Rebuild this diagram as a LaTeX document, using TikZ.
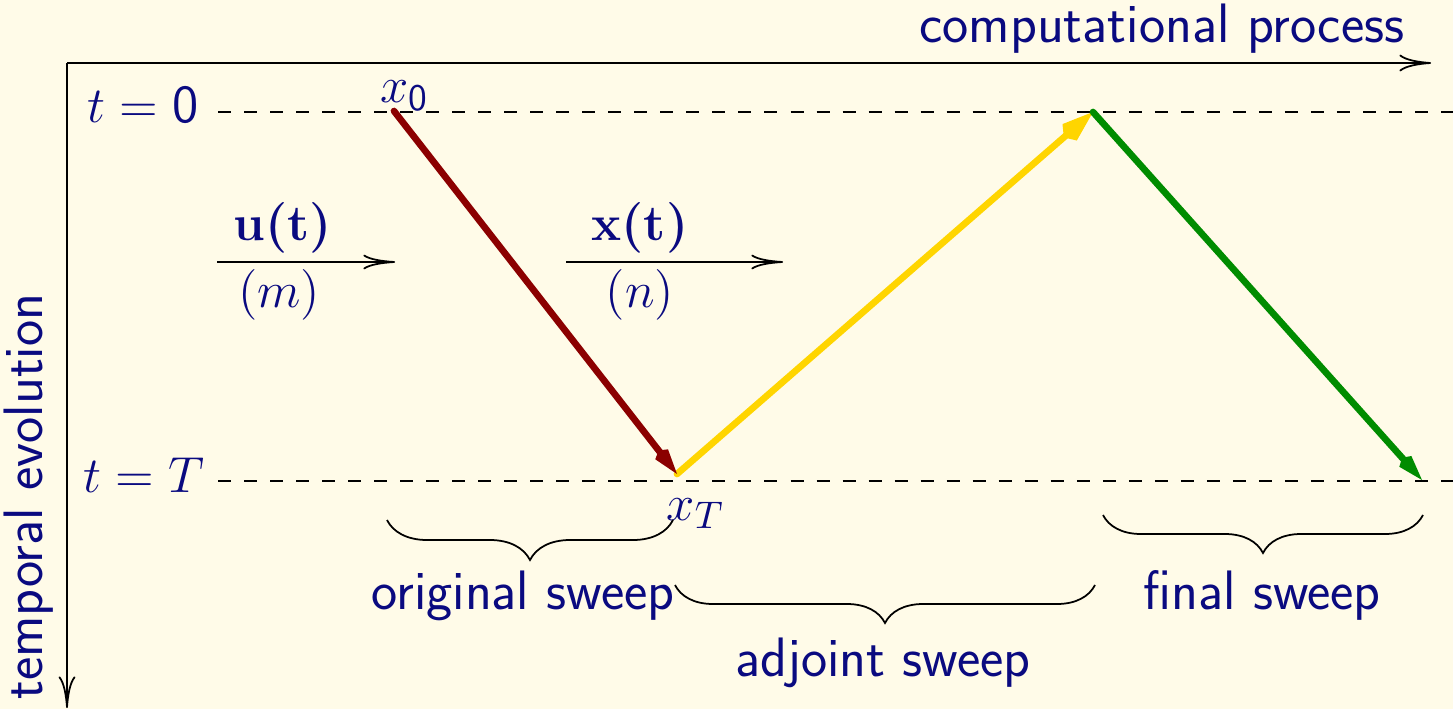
\documentclass[tikz,border=0pt]{standalone}
\usepackage{bm}
\usepackage{fontspec}
\usetikzlibrary{arrows.meta,decorations.pathreplacing}
\definecolor{bgc}{RGB}{255,251,232}
\definecolor{txt}{RGB}{10,10,128}
\definecolor{redl}{RGB}{139,0,0}
\definecolor{yell}{RGB}{255,213,0}
\definecolor{grn}{RGB}{0,140,0}
\begin{document}
\begin{tikzpicture}[x=0.01cm,y=-0.01cm,
  lbl/.style={text=txt,font=\fontsize{15.8}{18}\selectfont\sffamily,inner sep=0pt},
  mlbl/.style={text=txt,font=\fontsize{15.2}{18}\selectfont,inner sep=0pt},
  axisline/.style={line width=0.5pt,-{To[length=9pt,width=4.8pt]}},
  flowline/.style={line width=0.5pt,-{To[length=9pt,width=4.2pt]}},
  timeline/.style={line width=0.6pt,dash pattern=on 3.7pt off 3.7pt},
  sweepline/.style={line width=1.9pt,line cap=round},
  sweeptip/.style={-{Kite[length=8.5pt,width=4.6pt,inset=1.4pt]}},
  bigtip/.style={-{Kite[length=11pt,width=6.2pt,inset=2.2pt]}},
  bracedeco/.style={line width=0.5pt,decorate,decoration={brace,mirror,amplitude=#1}}
]
\fill[bgc] (0,0) rectangle (1453,709);
\useasboundingbox (0,0) rectangle (1453,709);

% axes
\coordinate (O) at (67,63);
\coordinate (X) at (1431,63);
\coordinate (Y) at (67,708);
\draw[axisline] (O) -- (X);
\draw[axisline] (O) -- (Y);
\node[lbl,anchor=base east] (cp) at (1405,43) {computational process};
\node[lbl,anchor=base east,rotate=90] (te) at (42,293) {temporal evolution};

% time levels
\node[mlbl,anchor=base east] (t0) at (199,123) {$t=\mathsf{0}$};
\node[mlbl,anchor=base east] (tT) at (205,492) {$t=T$};
\coordinate (d0a) at (218,112);
\coordinate (d0b) at (1453,112);
\coordinate (dTa) at (218,481);
\coordinate (dTb) at (1453,481);
\draw[timeline] (d0a) -- (d0b);
\draw[timeline] (dTa) -- (dTb);

% sweep vertices
\coordinate (A) at (394,111);
\coordinate (B) at (677,474);
\coordinate (C) at (1093,112);
\coordinate (D) at (1422,480);
\node[mlbl,anchor=base west] (x0) at (380,103) {$x_{\mathsf{0}}$};
\node[mlbl,anchor=base west] (xT) at (666,520) {$x_T$};

\draw[sweepline,yell,bigtip] (B) -- (C);
\draw[sweepline,redl,sweeptip] (A) -- (B);
\draw[sweepline,grn,sweeptip] (C) -- (D);

% flow arrows
\coordinate (u1) at (217,262);
\coordinate (u2) at (395,262);
\coordinate (v1) at (566,262);
\coordinate (v2) at (783,262);
\draw[flowline] (u1) -- (u2);
\draw[flowline] (v1) -- (v2);
\node[mlbl] (ut) at (283,228) {$\bm{\mathbf{u}(\mathbf{t})}$};
\node[mlbl] (um) at (279,295) {$(m)$};
\node[mlbl] (xt) at (640,228) {$\bm{\mathbf{x}(\mathbf{t})}$};
\node[mlbl] (xn) at (640,295) {$(n)$};

% braces
\coordinate (b1a) at (387,520);
\coordinate (b1b) at (673,520);
\coordinate (b2a) at (675,585);
\coordinate (b2b) at (1095,585);
\coordinate (b3a) at (1103,515);
\coordinate (b3b) at (1423,515);
\draw[bracedeco=0.4cm] (b1a) -- (b1b);
\draw[bracedeco=0.38cm] (b2a) -- (b2b);
\draw[bracedeco=0.38cm] (b3a) -- (b3b);
\node[lbl,anchor=base] (os) at (523,610) {original sweep};
\node[lbl,anchor=base] (as) at (883,676) {adjoint sweep};
\node[lbl,anchor=base] (fs) at (1262,610) {final sweep};
\end{tikzpicture}
\end{document}
